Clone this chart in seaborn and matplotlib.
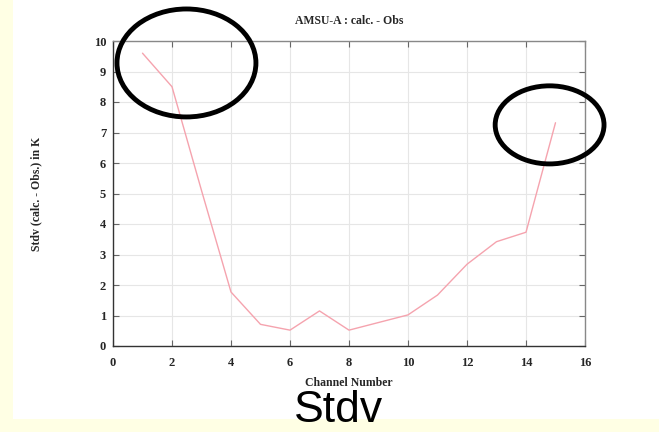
import pandas as pd
import seaborn as sns  # type: ignore
import matplotlib.pyplot as plt  # type: ignore
from matplotlib.patches import Ellipse, Rectangle

# AMSU-A channels and standard deviation of calc. - obs. (K)
channels = [1, 2, 3, 4, 5, 6, 7, 8, 9, 10, 11, 12, 13, 14, 15]
stdv = [9.6, 8.5, 5.1, 1.77, 0.71, 0.52, 1.15, 0.52, 0.77, 1.02, 1.67, 2.68, 3.42, 3.73, 7.32]

x_ticks = [0, 2, 4, 6, 8, 10, 12, 14, 16]
y_ticks = [0, 1, 2, 3, 4, 5, 6, 7, 8, 9, 10]

data = pd.DataFrame({'channel': channels, 'stdv': stdv})

sns.set_style('ticks')
plt.rcParams['font.family'] = ['Liberation Serif', 'DejaVu Serif']

fig = plt.figure(figsize=(6.59, 4.32), dpi=100)
fig.patch.set_facecolor('#FFFFE4')
# white slide panel behind the chart
fig.patches.append(Rectangle((13 / 659, 13 / 432), 1 - 13 / 659, 1 - 13 / 432,
                             transform=fig.transFigure, facecolor='white',
                             edgecolor='none', zorder=-5))

ax = fig.add_axes([113 / 659, 86 / 432, 472 / 659, 305 / 432])
ax.set_facecolor('white')

sns.lineplot(data=data, x='channel', y='stdv', ax=ax, color='#F5A3AE', linewidth=1.0)

ax.set_xlim(0, 16)
ax.set_ylim(0, 10)
ax.set_xticks(x_ticks)
ax.set_yticks(y_ticks)
ax.grid(True, color='#E6E6E6', linewidth=0.8)
ax.tick_params(direction='in', top=True, right=True, length=4, width=0.8,
               color='#666666', labelsize=9)
ax.tick_params(axis='x', pad=8)
ax.tick_params(axis='y', pad=5)
for lbl in ax.get_xticklabels() + ax.get_yticklabels():
    lbl.set_fontweight('bold')
for side in ['left', 'bottom']:
    ax.spines[side].set_color('#333333')
    ax.spines[side].set_linewidth(1.0)
for side in ['top', 'right']:
    ax.spines[side].set_visible(True)
    ax.spines[side].set_color('#888888')
    ax.spines[side].set_linewidth(1.0)

ax.set_title('AMSU-A : calc. - Obs', fontsize=8.5, fontweight='bold', pad=12)
ax.set_xlabel('Channel Number', fontsize=8.5, fontweight='bold', labelpad=6)
ax.set_ylabel('Stdv (calc. - Obs.) in K', fontsize=8.5, fontweight='bold', labelpad=37)

# highlight circles
ax.add_patch(Ellipse((2.49, 9.28), 4.71, 3.54, fill=False, edgecolor='black',
                     linewidth=3.5, clip_on=False, zorder=5))
ax.add_patch(Ellipse((14.8, 7.25), 3.69, 2.56, fill=False, edgecolor='black',
                     linewidth=3.5, clip_on=False, zorder=5))

fig.text(338 / 659, 0.5 / 432, 'Stdv', fontsize=32, family=['Liberation Sans', 'DejaVu Sans'],
         ha='center', va='bottom', color='black')

fig.savefig('out.png', dpi=100, facecolor=fig.get_facecolor())
